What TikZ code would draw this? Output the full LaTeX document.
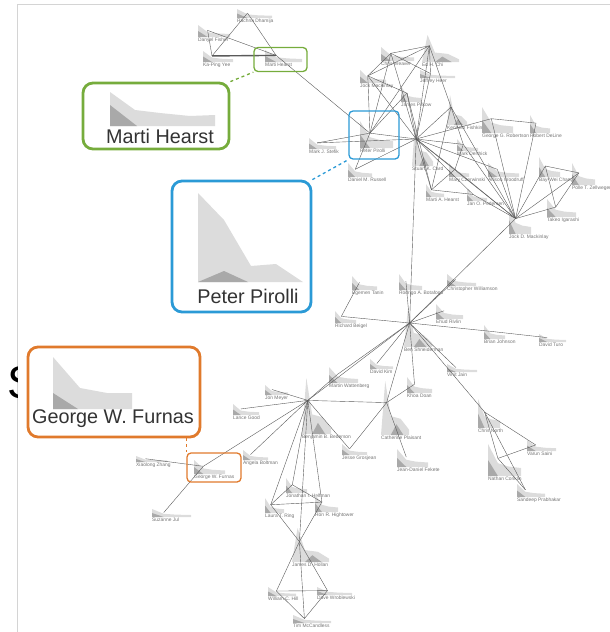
\documentclass[tikz,border=0pt]{standalone}
\usepackage{fontspec}
\setmainfont{Liberation Sans}
\definecolor{hearstgreen}{HTML}{76AC3C}
\definecolor{pirolliblue}{HTML}{2B9AD6}
\definecolor{furnasorange}{HTML}{E07A2C}
\definecolor{arealight}{HTML}{DCDCDC}
\definecolor{areadark}{HTML}{A9A9A9}
\definecolor{linkgray}{HTML}{5A5A5A}
\definecolor{framegray}{HTML}{D4D4D4}

\tikzset{
  minilabel/.style={anchor=north west, inner sep=0pt, font=\fontsize{4.9}{5}\selectfont, text=black!55},
  link/.style={draw=linkgray, line width=0.4pt},
  biglabel/.style={inner sep=0pt, font=\fontsize{19.8}{22}\selectfont, text=black!80},
  callout/.style={rounded corners=10pt, line width=2.8pt, fill=white},
  spot/.style={rounded corners=4pt, line width=1.3pt},
}

% x, base, width, height, label
\newcommand{\member}[6]{%
  \fill[arealight] (#2,#3) -- ++(0,-#5) -- ({#2+0.3*#4},{#3-0.4*#5}) -- ({#2+0.6*#4},{#3-0.3*#5}) -- ({#2+#4},{#3-0.25*#5}) -- ({#2+#4},#3) -- cycle;
  \fill[areadark] (#2,#3) -- ++(0,-0.5*#5) -- ({#2+0.3*#4},#3) -- cycle;
  \coordinate (#1) at ({#2+0.3*#4},{#3-0.55*#5});
  \node[minilabel] (#1-l) at (#2,{#3+1}) {#6};
}
\newcommand{\memberspike}[6]{%
  \fill[arealight] (#2,#3) -- ({#2+0.15*#4},{#3-#5}) -- ({#2+0.35*#4},{#3-0.35*#5}) -- ({#2+0.7*#4},{#3-0.3*#5}) -- ({#2+#4},{#3-0.1*#5}) -- ({#2+#4},#3) -- cycle;
  \fill[areadark] ({#2+0.35*#4},#3) -- ({#2+0.55*#4},{#3-0.2*#5}) -- ({#2+0.8*#4},#3) -- cycle;
  \coordinate (#1) at ({#2+0.2*#4},{#3-0.6*#5});
  \node[minilabel] (#1-l) at (#2,{#3+1}) {#6};
}

\begin{document}
\begin{tikzpicture}[x=1pt,y=-1pt]
\useasboundingbox (0,0) rectangle (610,632);
\draw[framegray, line width=1pt] (17,632) -- (17,4) -- (610,4);
\begin{scope}
  \clip (0,340) rectangle (17,420);
  \node[inner sep=0pt, font=\fontsize{46}{48}\selectfont] (bigs) at (23,383) {S};
\end{scope}

\member{rachna}{237}{18}{35}{9}{Rachna Dhamija}
\member{danyel}{198}{37}{32}{12}{Danyel Fisher}
\member{kaping}{203}{62}{30}{11}{Ka-Ping Yee}
\member{hearst}{265}{62}{37}{12}{Marti Hearst}

\member{jockm}{360}{83}{26}{13}{Jock Mackinlay}
\member{weaver}{381}{61}{33}{14}{Chris Weaver}
\memberspike{edchi}{422}{62}{37}{27}{Ed H. Chi}
\member{heer}{420}{78}{35}{8}{Jeffrey Heer}
\member{pitkow}{401}{102}{20}{16}{James Pitkow}
\member{pirolli}{360}{148}{33}{27}{Peter Pirolli}
\member{stefik}{309}{149}{27}{11}{Mark J. Stefik}
\member{russell}{348}{177}{24}{14}{Daniel M. Russell}
\memberspike{card}{412}{166}{21}{45}{Stuart K. Card}
\memberspike{fishkin}{447}{125}{20}{30}{Kenneth Fishkin}
\member{robertson}{482}{133}{31}{26}{George G. Robertson}
\member{deline}{530}{133}{20}{18}{Robert DeLine}
\member{derthick}{457}{151}{21}{12}{Mark Derthick}
\member{czerwinski}{449}{177}{20}{14}{Mary Czerwinski}
\member{woodruff}{488}{177}{31}{14}{Allison Woodruff}
\member{martia}{426}{197}{18}{13}{Marti A. Hearst}
\member{pedersen}{467}{201}{20}{12}{Jan O. Pedersen}
\member{baywei}{539}{177}{21}{20}{Bay-Wei Chang}
\member{zellweger}{572}{185}{23}{22}{Polle T. Zellweger}
\member{igarashi}{547}{217}{29}{18}{Takeo Igarashi}
\member{jockd}{509}{234}{22}{28}{Jock D. Mackinlay}

\member{tanin}{352}{290}{25}{14}{Egemen Tanin}
\member{beigel}{335}{323}{21}{12}{Richard Beigel}
\member{botafogo}{399}{290}{23}{16}{Rodrigo A. Botafogo}
\member{williamson}{447}{286}{29}{12}{Christopher Williamson}
\member{rivlin}{436}{319}{27}{15}{Ehud Rivlin}
\memberspike{shneiderman}{404}{347}{28}{40}{Ben Shneiderman}
\member{johnson}{484}{339}{21}{14}{Brian Johnson}
\member{turo}{539}{342}{27}{8}{David Turo}
\member{kim}{370}{369}{23}{10}{David Kim}
\member{jain}{447}{372}{30}{8}{Vinit Jain}
\member{wattenberg}{329}{383}{29}{16}{Martin Wattenberg}
\member{doan}{407}{393}{25}{16}{Khoa Doan}
\member{meyer}{265}{395}{23}{10}{Jon Meyer}
\member{good}{233}{415}{26}{11}{Lance Good}
\memberspike{bederson}{302}{434}{29}{56}{Benjamin B. Bederson}
\memberspike{plaisant}{381}{435}{28}{54}{Catherine Plaisant}
\member{grosjean}{342}{455}{25}{11}{Jesse Grosjean}
\member{fekete}{397}{467}{31}{18}{Jean-Daniel Fekete}
\member{north}{478}{428}{22}{29}{Chris North}
\member{saini}{527}{451}{29}{11}{Varun Saini}
\member{conklin}{488}{476}{33}{32}{Nathan Conklin}
\member{prabhakar}{517}{497}{28}{13}{Sandeep Prabhakar}
\member{boltman}{243}{460}{25}{10}{Angela Boltman}
\member{zhang}{136}{462}{31}{6}{Xiaolong Zhang}
\member{furnas}{194}{474}{31}{14}{George W. Furnas}
\member{jul}{152}{517}{39}{8}{Suzanne Jul}
\member{helfman}{286}{493}{21}{15}{Jonathan I. Helfman}
\member{ring}{265}{513}{19}{15}{Laura T. Ring}
\member{hightower}{315}{512}{23}{18}{Ron R. Hightower}
\memberspike{hollan}{292}{562}{37}{34}{James D. Hollan}
\member{hill}{268}{596}{28}{9}{William C. Hill}
\member{wroblewski}{317}{595}{35}{8}{Dave Wroblewski}
\member{mccandless}{293}{623}{38}{8}{Tim McCandless}

\foreach \a/\b in {rachna/hearst, rachna/kaping, danyel/hearst, danyel/kaping, hearst/pirolli,
  pirolli/stefik, pirolli/russell, pirolli/card, pirolli/jockm, pirolli/weaver, pirolli/pitkow, pirolli/edchi,
  stefik/card, russell/card, jockm/weaver, jockm/edchi, jockm/pitkow, jockm/card,
  weaver/edchi, weaver/card, weaver/heer, edchi/heer, edchi/card, edchi/fishkin,
  heer/card, pitkow/card, pitkow/martia, card/fishkin, card/robertson, card/derthick,
  card/czerwinski, card/woodruff, card/martia, card/pedersen, card/jockd, card/shneiderman,
  fishkin/jockd, fishkin/derthick, fishkin/martia, robertson/deline, robertson/jockd, deline/jockd,
  derthick/czerwinski, derthick/jockd, czerwinski/jockd, woodruff/jockd, martia/czerwinski,
  martia/pedersen, pedersen/jockd, baywei/zellweger, baywei/jockd, zellweger/jockd,
  zellweger/igarashi, igarashi/jockd, baywei/igarashi, jockd/shneiderman,
  shneiderman/beigel, shneiderman/botafogo, shneiderman/williamson, shneiderman/rivlin,
  shneiderman/johnson, shneiderman/jain, shneiderman/kim, shneiderman/wattenberg,
  shneiderman/bederson, shneiderman/plaisant, shneiderman/doan, shneiderman/north,
  beigel/tanin, johnson/turo, bederson/meyer, bederson/good, bederson/wattenberg,
  bederson/plaisant, bederson/grosjean, bederson/furnas, bederson/boltman, bederson/helfman,
  bederson/ring, bederson/hightower, bederson/hollan, plaisant/grosjean, plaisant/fekete,
  plaisant/doan, north/saini, north/conklin, north/prabhakar, conklin/saini, conklin/prabhakar,
  furnas/zhang, furnas/jul, helfman/ring, helfman/hightower, ring/hightower, ring/hollan,
  hightower/hollan, hollan/hill, hollan/wroblewski, hollan/mccandless, hill/mccandless,
  wroblewski/mccandless, hill/wroblewski}
  \draw[link] (\a) -- (\b);
\draw[linkgray, line width=1.4pt] (kaping) -- (hearst);

\node[spot, draw=hearstgreen, minimum width=53, minimum height=24] (hearstspot) at (280.5,59.5) {};
\node[spot, draw=pirolliblue, minimum width=50, minimum height=48] (pirollispot) at (374,135) {};
\node[spot, draw=furnasorange, minimum width=54, minimum height=29] (furnasspot) at (214,467.5) {};

\node[callout, draw=hearstgreen, minimum width=146, minimum height=66] (hearstbig) at (156,116) {};
\fill[arealight] (110,126) -- (110,92) -- (135,110) -- (160,113) -- (190,116) -- (215,115) -- (215,126) -- cycle;
\fill[areadark] (110,105) -- (137,126) -- (110,126) -- cycle;
\node[biglabel] (hearstname) at (160,136) {Marti Hearst};

\node[callout, draw=pirolliblue, minimum width=139, minimum height=131] (pirollibig) at (241.5,246.5) {};
\fill[arealight] (198,282) -- (198,193) -- (224,220) -- (251,266) -- (276,264) -- (303,282) -- cycle;
\fill[areadark] (198,282) -- (224,271) -- (248,282) -- cycle;
\node[biglabel] (pirolliname) at (248,296) {Peter Pirolli};

\node[callout, draw=furnasorange, minimum width=172, minimum height=90] (furnasbig) at (114,392) {};
\fill[arealight] (53,409) -- (53,357) -- (80,388) -- (107,393) -- (132,393) -- (132,409) -- cycle;
\fill[areadark] (53,393) -- (78,409) -- (53,409) -- cycle;
\node[biglabel] (furnasname) at (113,419) {George W. Furnas};

\draw[hearstgreen, line width=1.3pt, dashed] (hearstbig.north east) -- (hearstspot.south west);
\draw[pirolliblue, line width=1.3pt, dashed] (pirollibig.north east) -- (pirollispot.south west);
\draw[furnasorange, line width=1.3pt, dashed] (furnasbig.south -| furnasspot.north west) -- (furnasspot.north west);
\end{tikzpicture}
\end{document}
